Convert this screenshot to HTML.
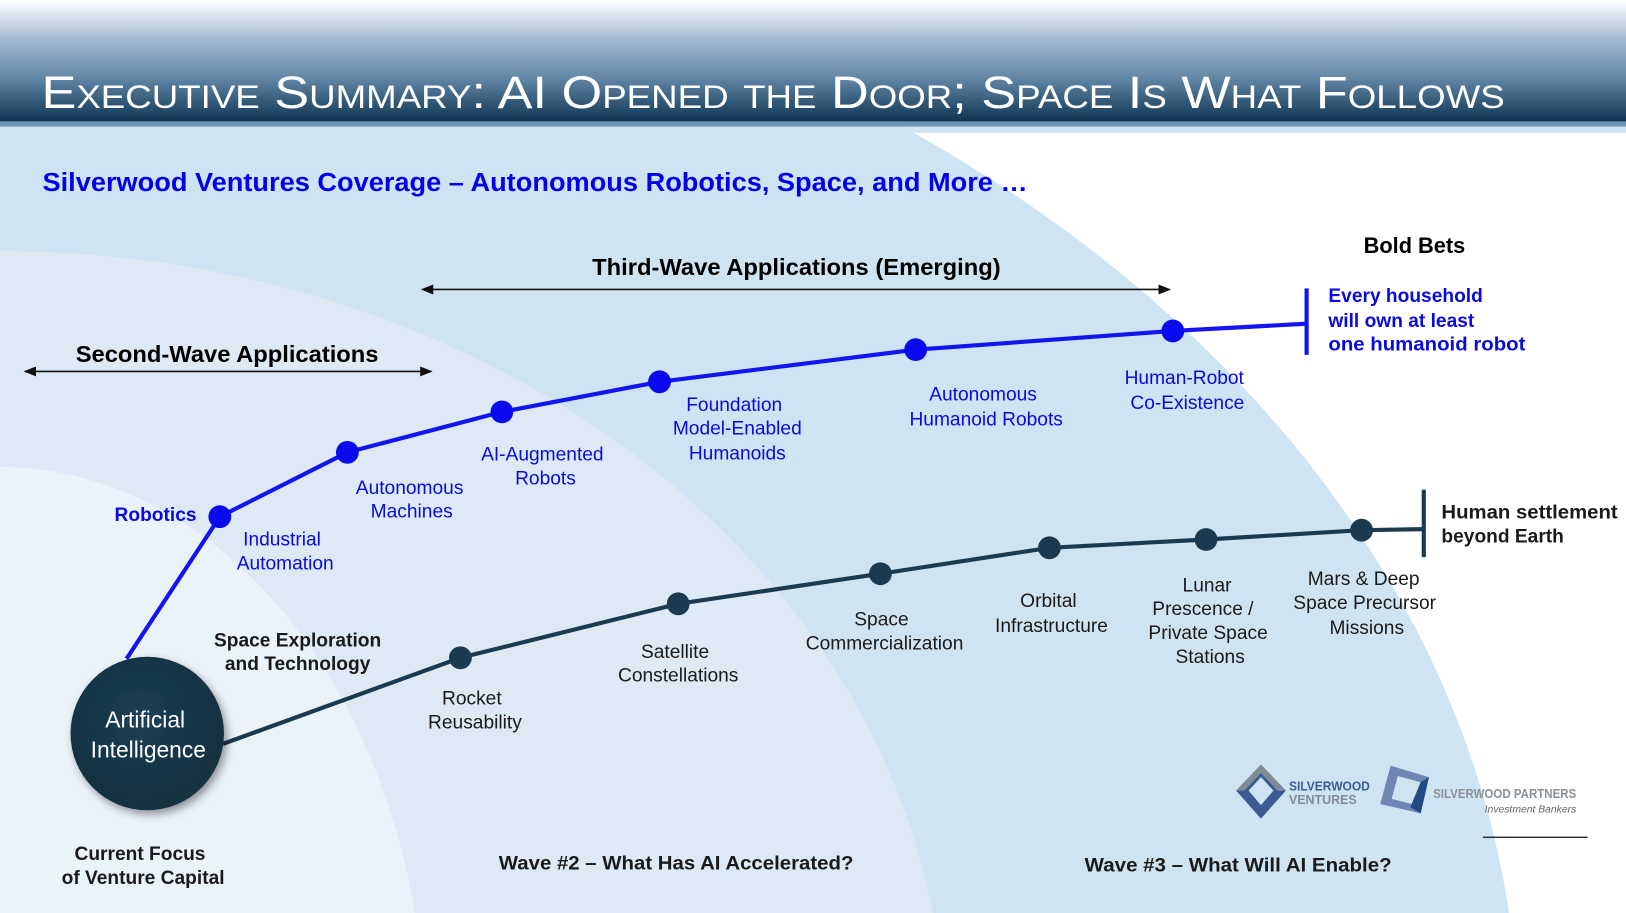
<!DOCTYPE html>
<html><head><meta charset="utf-8"><style>
html,body{margin:0;padding:0;background:#fff;overflow:hidden;width:1626px;height:913px}
svg{display:block}
text{font-family:"Liberation Sans",Arial,sans-serif}
</style></head><body>
<svg width="1626" height="913" viewBox="0 0 1568 880" preserveAspectRatio="none" xmlns="http://www.w3.org/2000/svg">
<defs>
<linearGradient id="hd" x1="0" y1="0" x2="0" y2="1">
<stop offset="0" stop-color="#ffffff"/><stop offset="0.3" stop-color="#a9bfd6"/><stop offset="0.65" stop-color="#5f84a3"/><stop offset="1" stop-color="#0c3350"/>
</linearGradient>
<radialGradient id="ai" cx="0.45" cy="0.4" r="0.6"><stop offset="0" stop-color="#1d3e54"/><stop offset="1" stop-color="#12303f"/></radialGradient>
<filter id="sh" x="-30%" y="-30%" width="160%" height="160%"><feDropShadow dx="3" dy="4" stdDeviation="4" flood-color="#000" flood-opacity="0.4"/></filter>
<marker id="ar" viewBox="0 0 10 10" refX="9" refY="5" markerWidth="8" markerHeight="8" orient="auto-start-reverse"><path d="M0,1 L10,5 L0,9 z" fill="#111"/></marker>
</defs>
<rect width="1568" height="880" fill="#fff"/>
<rect x="0" y="122" width="1568" height="6" fill="#d0e5f3"/>
<ellipse cx="0" cy="1000" rx="1464" ry="1092" fill="#cfe4f2"/>
<rect x="0" y="122" width="870" height="150" fill="#cfe4f2"/>
<ellipse cx="0" cy="1000" rx="911" ry="758" fill="#dde9f4"/>
<ellipse cx="0" cy="1000" rx="410" ry="550" fill="#eaf2fa"/>
<rect x="0" y="0" width="1568" height="118" fill="url(#hd)"/>
<rect x="0" y="117" width="1568" height="5" fill="#6f95b6"/>
<text x="40" y="104" fill="#fff" font-size="44" textLength="1411" lengthAdjust="spacingAndGlyphs" style="font-variant:small-caps">Executive Summary:  AI Opened the Door; Space Is What Follows</text>
<text x="41" y="184" fill="#0000ee" font-size="25" font-weight="bold" textLength="950" lengthAdjust="spacingAndGlyphs">Silverwood Ventures Coverage – Autonomous Robotics, Space, and More …</text>
<text x="768" y="265" text-anchor="middle" font-size="22" font-weight="bold" fill="#000" textLength="394" lengthAdjust="spacingAndGlyphs">Third-Wave Applications (Emerging)</text>
<line x1="407" y1="279" x2="1128" y2="279" stroke="#111" stroke-width="1.5" marker-start="url(#ar)" marker-end="url(#ar)"/>
<text x="219" y="349" text-anchor="middle" font-size="22" font-weight="bold" fill="#000" textLength="292" lengthAdjust="spacingAndGlyphs">Second-Wave Applications</text>
<line x1="24" y1="358" x2="416" y2="358" stroke="#111" stroke-width="1.5" marker-start="url(#ar)" marker-end="url(#ar)"/>
<text x="1364" y="244" text-anchor="middle" font-size="21" font-weight="bold" fill="#000">Bold Bets</text>
<polyline points="122,635 212,498 335,436 484,397 636,368 883,337 1131,319 1260,312" fill="none" stroke="#1414f0" stroke-width="4"/>
<rect x="1258" y="278" width="4" height="64" fill="#1414f0"/>
<g fill="#0a0aef"><circle cx="212" cy="498" r="11"/><circle cx="335" cy="436" r="11"/><circle cx="484" cy="397" r="11"/><circle cx="636" cy="368" r="11"/><circle cx="883" cy="337" r="11"/><circle cx="1131" cy="319" r="11"/></g>
<polyline points="215,717 444,634 654,582 849,553 1012,528 1163,520 1313,511 1373,510" fill="none" stroke="#1c3a4f" stroke-width="4"/>
<rect x="1371" y="472" width="4" height="65" fill="#1c3a4f"/>
<g fill="#1c3a4f"><circle cx="444" cy="634" r="11"/><circle cx="654" cy="582" r="11"/><circle cx="849" cy="553" r="11"/><circle cx="1012" cy="528" r="11"/><circle cx="1163" cy="520" r="11"/><circle cx="1313" cy="511" r="11"/></g>
<circle cx="142" cy="707" r="74" fill="url(#ai)" filter="url(#sh)"/>
<text x="140" y="701" text-anchor="middle" font-size="22" fill="#fff">Artificial</text>
<text x="143" y="730" text-anchor="middle" font-size="22" fill="#fff">Intelligence</text>
<g font-size="18.5" fill="#0a0ae0" text-anchor="middle">
<text x="150" y="502" font-weight="bold">Robotics</text>
<text x="272" y="526">Industrial</text><text x="275" y="549">Automation</text>
<text x="395" y="476">Autonomous</text><text x="397" y="499">Machines</text>
<text x="523" y="444">AI-Augmented</text><text x="526" y="467">Robots</text>
<text x="708" y="396">Foundation</text><text x="711" y="419">Model-Enabled</text><text x="711" y="443">Humanoids</text>
<text x="948" y="386">Autonomous</text><text x="951" y="410">Humanoid Robots</text>
<text x="1142" y="370">Human-Robot</text><text x="1145" y="394">Co-Existence</text>
</g>
<g font-size="18.5" fill="#0a0ae0" font-weight="bold">
<text x="1281" y="291">Every household</text><text x="1281" y="315">will own at least</text><text x="1281" y="338" textLength="190" lengthAdjust="spacingAndGlyphs">one humanoid robot</text>
</g>
<g font-size="18.5" fill="#1a1a1a" text-anchor="middle">
<text x="455" y="679">Rocket</text><text x="458" y="702">Reusability</text>
<text x="651" y="634">Satellite</text><text x="654" y="657">Constellations</text>
<text x="850" y="603">Space</text><text x="853" y="626">Commercialization</text>
<text x="1011" y="585">Orbital</text><text x="1014" y="609">Infrastructure</text>
<text x="1164" y="570">Lunar</text><text x="1160" y="593">Prescence /</text><text x="1165" y="616">Private Space</text><text x="1167" y="639">Stations</text>
<text x="1315" y="564">Mars &amp; Deep</text><text x="1316" y="587">Space Precursor</text><text x="1318" y="611">Missions</text>
</g>
<g font-size="18.5" fill="#1a1a1a" font-weight="bold">
<text x="287" y="623" text-anchor="middle">Space Exploration</text><text x="287" y="646" text-anchor="middle">and Technology</text>
<text x="1390" y="500" textLength="170" lengthAdjust="spacingAndGlyphs">Human settlement</text><text x="1390" y="523">beyond Earth</text>
<text x="135" y="829" text-anchor="middle">Current Focus</text><text x="138" y="852" text-anchor="middle">of Venture Capital</text>
<text x="652" y="838" text-anchor="middle" textLength="342" lengthAdjust="spacingAndGlyphs">Wave #2 – What Has AI Accelerated?</text>
<text x="1194" y="840" text-anchor="middle" textLength="296" lengthAdjust="spacingAndGlyphs">Wave #3 – What Will AI Enable?</text>
</g>
<g>
<polygon points="1216,737 1240,762 1216,789 1192,762" fill="#3d5a95"/>
<polygon points="1216,749 1228,762 1216,776 1204,762" fill="#cfe4f2"/>
<polygon points="1216,737 1240,762 1232,762 1216,745 1200,762 1192,762" fill="#7f8c95"/>
<text x="1243" y="762" font-size="12" font-weight="bold" fill="#3d5a95" textLength="78" lengthAdjust="spacingAndGlyphs">SILVERWOOD</text>
<text x="1243" y="775" font-size="12" font-weight="bold" fill="#7f8c95">VENTURES</text>
<polygon points="1341,738 1378,749 1370,784 1331,775" fill="#6f86b5"/>
<polygon points="1348,748 1370,754 1362,775 1342,770" fill="#cfe4f2"/>
<polygon points="1370,754 1378,749 1370,784 1360,778" fill="#204a82"/>
<text x="1382" y="769" font-size="12" font-weight="bold" fill="#8a9299" textLength="138" lengthAdjust="spacingAndGlyphs">SILVERWOOD PARTNERS</text>
<text x="1520" y="783" font-size="10" font-style="italic" fill="#666" text-anchor="end">Investment Bankers</text>
<line x1="1430" y1="807" x2="1531" y2="807" stroke="#111" stroke-width="1.2"/>
</g>
</svg>
</body></html>
